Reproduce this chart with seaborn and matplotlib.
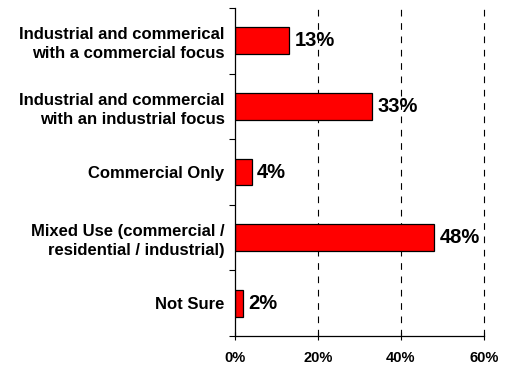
import matplotlib
matplotlib.use("Agg")
import matplotlib.pyplot as plt
import seaborn as sns
import pandas as pd

categories = [
    "Industrial and commerical\nwith a commercial focus",
    "Industrial and commercial\nwith an industrial focus",
    "Commercial Only",
    "Mixed Use (commercial /\nresidential / industrial)",
    "Not Sure",
]
values = [13, 33, 4, 48, 2]
xticks = [0, 20, 40, 60]
xticklabels = ["0%", "20%", "40%", "60%"]

sns.set_style("white")
plt.rcParams['font.family'] = ['Liberation Sans', 'DejaVu Sans']
plt.rcParams['text.color'] = 'black'
plt.rcParams['xtick.color'] = 'black'
plt.rcParams['ytick.color'] = 'black'
plt.rcParams['ytick.left'] = True
plt.rcParams['xtick.bottom'] = True

df = pd.DataFrame({"cat": categories, "val": values})

fig = plt.figure(figsize=(5.1, 3.66), dpi=100)
ax = fig.add_axes([235/510, 1-336/366, (484-235)/510, (336-8)/366])

sns.barplot(data=df, x="val", y="cat", ax=ax, color="#FF0000", width=0.41,
            edgecolor="black", linewidth=0.9, saturation=1, orient="h")

ax.set_xlim(0, 60)
ax.set_ylim(len(categories)-0.5, -0.5)
ax.set_xticks(xticks)
ax.set_xticklabels(xticklabels, fontsize=10.5, fontweight="bold")
ax.set_yticks([i for i in range(len(categories))])
ax.set_yticklabels(categories, fontsize=12, fontweight="bold", linespacing=1.35)
ax.tick_params(axis="y", which="major", length=0, pad=7.5)
# boundary ticks on left
ax.set_yticks([i - 0.5 for i in range(len(categories)+1)], minor=True)
ax.tick_params(axis="y", which="minor", left=True, length=4, width=0.8,
               direction="out", color="black")
ax.tick_params(axis="x", length=6, width=0.8, direction="inout", color="black", pad=8)
ax.set_xlabel("")
ax.set_ylabel("")

for s in ["top", "right"]:
    ax.spines[s].set_visible(False)
for s in ["left", "bottom"]:
    ax.spines[s].set_color("black")
    ax.spines[s].set_linewidth(0.9)

for x in xticks[1:]:
    ax.axvline(x, color="black", linestyle=(0, (6, 6)), linewidth=0.8,
               zorder=0, clip_on=False)

for i, v in enumerate(values):
    ax.text(v + 1.3, i, f"{v}%", va="center", ha="left", fontsize=14.5,
            fontweight="bold", color="black")

fig.savefig("out.png", dpi=100)
